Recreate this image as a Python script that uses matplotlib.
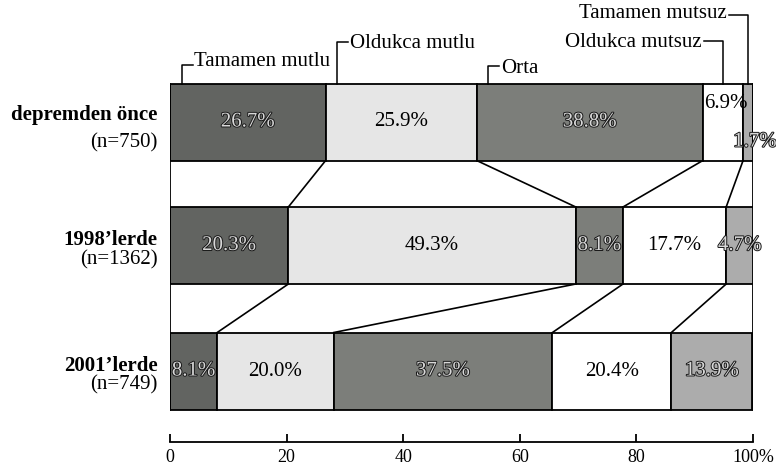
import matplotlib
matplotlib.use('Agg')
import matplotlib.pyplot as plt
import matplotlib.patheffects as pe
import numpy as np

plt.rcParams['font.family'] = ['Liberation Serif', 'DejaVu Serif']

categories = ['Tamamen mutlu', 'Oldukca mutlu', 'Orta', 'Oldukca mutsuz', 'Tamamen mutsuz']
groups = ['depremden önce', '1998’lerde', '2001’lerde']
sizes = ['(n=750)', '(n=1362)', '(n=749)']
shares = [
    [26.7, 25.9, 38.8, 6.9, 1.7],
    [20.3, 49.3, 8.1, 17.7, 4.7],
    [8.1, 20.0, 37.5, 20.4, 13.9],
]
ticks = [0, 20, 40, 60, 80, 100]
tick_labels = ['0', '20', '40', '60', '80', '100%']

colors = ['#626461', '#e6e6e6', '#7c7e7a', '#ffffff', '#acacac']
outlined = [True, False, True, False, True]

# y is measured in pixels from the top of the figure
bar_y = [122, 245.5, 371]
bar_h = 77
fs = 15


def main():
    fig = plt.figure(figsize=(7.76, 4.68), dpi=100)
    ax = fig.add_axes([170 / 776, 26 / 468, 583 / 776, 442 / 468])
    ax.set_xlim(0, 100)
    ax.set_ylim(442, 0)

    lefts = [np.concatenate([[0], np.cumsum(s)[:-1]]) for s in shares]

    for i, s in enumerate(shares):
        ax.barh(bar_y[i], s, left=lefts[i], height=bar_h, color=colors,
                edgecolor='black', linewidth=1.3, zorder=2)

    # outer frame joining the bars
    top = bar_y[0] - bar_h / 2
    bottom = bar_y[-1] + bar_h / 2
    for x in (0, 100):
        ax.plot([x, x], [top, bottom], color='black', lw=1.3, zorder=3)

    # connectors between matching boundaries
    for i in range(len(shares) - 1):
        a = np.cumsum(shares[i])[:-1]
        b = np.cumsum(shares[i + 1])[:-1]
        for xa, xb in zip(a, b):
            ax.plot([xa, xb], [bar_y[i] + bar_h / 2, bar_y[i + 1] - bar_h / 2],
                    color='black', lw=1.2, zorder=1)

    # value labels
    nudges = {(0, 3): (0.5, -18), (0, 4): (1.2, 20)}
    outline = [pe.withStroke(linewidth=1.4, foreground='#1a1a1a')]
    for i, s in enumerate(shares):
        for j, v in enumerate(s):
            dx, dy = nudges.get((i, j), (0, 0))
            x = lefts[i][j] + v / 2 + dx
            y = bar_y[i] + dy
            if outlined[j]:
                ax.text(x, y, f'{v:.1f}%', ha='center', va='center', fontsize=fs,
                        color='#d8d8d8', path_effects=outline, zorder=4)
            else:
                ax.text(x, y, f'{v:.1f}%', ha='center', va='center', fontsize=fs,
                        color='black', zorder=4)

    # category callouts above the first bar
    callouts = [
        (0, 'left', 65, 61),
        (1, 'left', 42, 44),
        (2, 'left', 66, 68.5),
        (3, 'right', 41, 42.5),
        (4, 'right', 15, 14),
    ]
    for j, side, arm_y, text_y in callouts:
        if side == 'left':
            xl = lefts[0][j] + 2
            ax.plot([xl, xl, xl + 1.9], [top, arm_y, arm_y], color='black', lw=1.1)
            ax.text(xl + 2.2, text_y, categories[j], ha='left', va='center', fontsize=fs)
        else:
            xl = lefts[0][j] + shares[0][j] / 2
            ax.plot([xl, xl, xl - 3.2], [top, arm_y, arm_y], color='black', lw=1.1)
            ax.text(xl - 3.7, text_y, categories[j], ha='right', va='center', fontsize=fs)

    # group names on the left, placed by baseline
    name_dy = [(-2, 25), (-0.5, 18.5), (0, 18.5)]
    for i, (g, n) in enumerate(zip(groups, sizes)):
        ax.text(-2.1, bar_y[i] + name_dy[i][0], g, ha='right', va='baseline',
                fontsize=fs, fontweight='bold')
        ax.text(-2.1, bar_y[i] + name_dy[i][1], n, ha='right', va='baseline', fontsize=fs)

    for side in ('top', 'left', 'right'):
        ax.spines[side].set_visible(False)
    ax.spines['bottom'].set_linewidth(1.3)
    ax.set_yticks([])
    ax.set_xticks(ticks)
    ax.set_xticklabels(tick_labels)
    ax.tick_params(axis='x', direction='in', length=6, width=1.3, labelsize=13, pad=5)

    fig.savefig('out.png', dpi=100)


if __name__ == '__main__':
    main()
